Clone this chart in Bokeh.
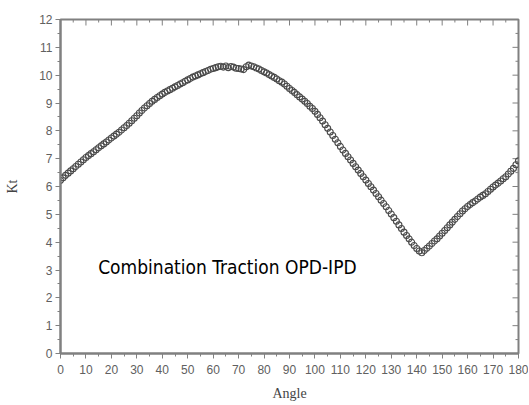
from bokeh.plotting import figure
from bokeh.models import Range1d, Label, SingleIntervalTicker
from bokeh.embed import file_html
from bokeh.resources import INLINE

angle = list(range(0, 181))
kt = [
    6.22, 6.31, 6.40, 6.48, 6.56, 6.64, 6.72, 6.80, 6.88, 6.96, 7.04,
    7.11, 7.18, 7.25, 7.32, 7.39, 7.46, 7.53, 7.60, 7.67, 7.74,
    7.81, 7.88, 7.95, 8.03, 8.11, 8.19, 8.27, 8.36, 8.45, 8.54,
    8.64, 8.73, 8.82, 8.90, 8.98, 9.06, 9.13, 9.20, 9.26, 9.32,
    9.38, 9.43, 9.48, 9.53, 9.58, 9.63, 9.68, 9.73, 9.78, 9.83,
    9.88, 9.93, 9.97, 10.01, 10.05, 10.09, 10.13, 10.17, 10.21, 10.24,
    10.27, 10.30, 10.32, 10.29, 10.33, 10.27, 10.31, 10.29, 10.25, 10.24,
    10.22, 10.20, 10.30, 10.36, 10.33, 10.30, 10.26, 10.22, 10.17, 10.12,
    10.08, 10.02, 9.97, 9.92, 9.86, 9.80, 9.75, 9.68, 9.60, 9.52,
    9.45, 9.38, 9.30, 9.22, 9.14, 9.06, 8.98, 8.88, 8.80, 8.70,
    8.59, 8.47, 8.35, 8.22, 8.09, 7.96, 7.83, 7.70, 7.57, 7.44,
    7.31, 7.19, 7.07, 6.95, 6.83, 6.71, 6.59, 6.47, 6.35, 6.23,
    6.11, 5.99, 5.87, 5.75, 5.63, 5.51, 5.39, 5.27, 5.14, 5.01,
    4.88, 4.75, 4.62, 4.49, 4.36, 4.24, 4.12, 4.00, 3.88, 3.77, 3.68, 3.62,
    3.70, 3.78, 3.86, 3.95, 4.04, 4.12, 4.22, 4.32,
    4.42, 4.52, 4.62, 4.72, 4.82, 4.92, 5.02, 5.12, 5.20, 5.28,
    5.35, 5.42, 5.48, 5.55, 5.62, 5.68, 5.74, 5.82, 5.90, 5.98,
    6.05, 6.12, 6.20, 6.28, 6.35, 6.45, 6.55, 6.65, 6.78, 6.92,
]
x_major = list(range(0, 181, 10))
x_minor = list(range(5, 180, 10))
y_major = list(range(0, 13))
y_minor = [v + 0.5 for v in range(0, 12)]
annotation = "Combination  Traction OPD-IPD"

XMIN, XMAX, YMIN, YMAX = 0, 180, 0, 12
W, H = 528, 404
BL, BR, BT, BB = 60, 10, 19, 51
px_x = (XMAX - XMIN) / (W - BL - BR)
px_y = (YMAX - YMIN) / (H - BT - BB)

p = figure(width=W, height=H, output_backend="svg", toolbar_location=None,
           x_range=Range1d(XMIN, XMAX), y_range=Range1d(YMIN, YMAX),
           min_border_left=BL, min_border_right=BR, min_border_top=BT, min_border_bottom=BB)
p.grid.visible = False
p.outline_line_color = "#808080"
p.outline_line_width = 2
p.background_fill_color = "white"

grey = "#808080"

# inward ticks on the top and right frame edges
p.segment(x0=x_major, y0=[YMAX] * len(x_major), x1=x_major, y1=[YMAX - 6 * px_y] * len(x_major),
          line_color=grey, line_width=1)
p.segment(x0=x_minor, y0=[YMAX] * len(x_minor), x1=x_minor, y1=[YMAX - 3 * px_y] * len(x_minor),
          line_color=grey, line_width=1)
p.segment(x0=[XMAX] * len(y_major), y0=y_major, x1=[XMAX - 6 * px_x] * len(y_major), y1=y_major,
          line_color=grey, line_width=1)
p.segment(x0=[XMAX] * len(y_minor), y0=y_minor, x1=[XMAX - 3 * px_x] * len(y_minor), y1=y_minor,
          line_color=grey, line_width=1)

p.scatter(angle, kt, marker="circle", size=6, fill_color=None,
          line_color="#4a4a4a", line_width=1.1)

for ax in (p.xaxis[0], p.yaxis[0]):
    ax.axis_line_color = grey
    ax.axis_line_width = 2
    ax.major_tick_line_color = grey
    ax.minor_tick_line_color = grey
    ax.major_tick_out = 5
    ax.major_tick_in = 0
    ax.minor_tick_out = 3
    ax.minor_tick_in = 0
    ax.major_label_text_font = "Liberation Sans"
    ax.major_label_text_font_size = "12px"
    ax.major_label_text_color = "#606060"
    ax.axis_label_text_font = "Liberation Serif"
    ax.axis_label_text_font_style = "normal"
    ax.axis_label_text_font_size = "14px"
    ax.axis_label_text_color = "#444444"

p.xaxis[0].ticker = SingleIntervalTicker(interval=10, num_minor_ticks=2)
p.yaxis[0].ticker = SingleIntervalTicker(interval=1, num_minor_ticks=2)
p.xaxis[0].major_label_standoff = 6
p.yaxis[0].major_label_standoff = 3
p.xaxis[0].axis_label = "Angle"
p.yaxis[0].axis_label = "Kt"
p.xaxis[0].axis_label_standoff = 9
p.yaxis[0].axis_label_standoff = 16

p.add_layout(Label(x=14.8, y=3.1, text=annotation, text_baseline="middle",
                   text_font="DejaVu Sans Condensed, Liberation Sans Narrow, sans-serif",
                   text_font_size="19px", text_color="black"))

open("out.html", "w").write(file_html(p, INLINE))
